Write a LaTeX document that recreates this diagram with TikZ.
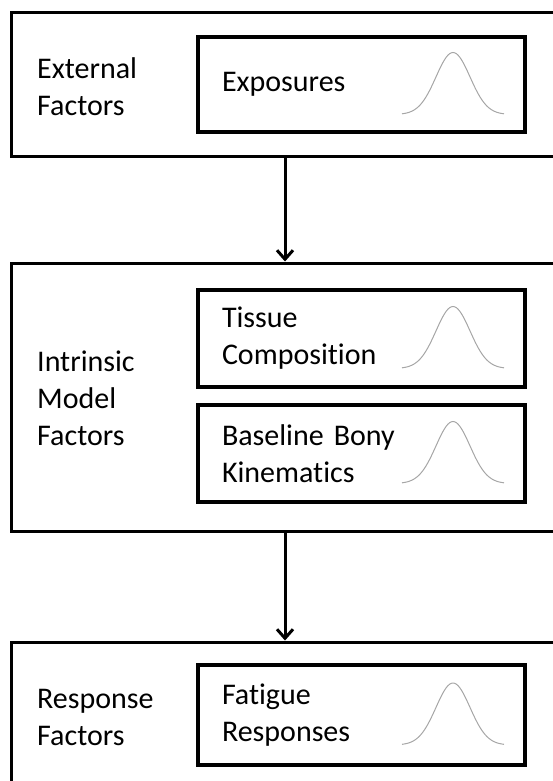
\documentclass[tikz,border=0pt]{standalone}
\usepackage{fontspec}
\setmainfont{Carlito}[Ligatures=NoCommon]
\usepackage{tikz}
\usetikzlibrary{positioning, calc, arrows.meta}

% Gaussian curve drawn at the right of an inner box
\newcommand{\bellcurve}[1]{%
	\begin{scope}[shift={($(#1.east)+(-74,30)$)}]
		\draw[bell] plot[domain=-3:3, samples=61, smooth] ({17*\x}, {-62*exp(-0.5*(\x)*(\x))});
	\end{scope}
}

\begin{document}
\begin{tikzpicture}[
		x=1pt, y=-1pt,
		% Large outer frame, open to the right
		outerbox/.style={
			draw,
			line width=3pt,
			inner sep=0pt,
			minimum width=589pt
		},
		% Inner box holding a factor and its curve
		innerbox/.style={
			draw,
			line width=4pt,
			inner sep=0pt,
			minimum width=327pt,
			text width=279pt,
			align=left,
			font=\fontsize{30}{37}\selectfont
		},
		% Label on the left of each frame
		framelabel/.style={
			anchor=west,
			align=left,
			inner sep=0pt,
			font=\fontsize{30}{37}\selectfont
		},
		% Thin grey distribution curve
		bell/.style={
			color=black!35,
			line width=1pt
		},
		% Connector between frames
		flow/.style={
			line width=3pt,
			-{Straight Barb[length=9pt, width=16pt, line width=3pt]}
		}
		]
		
		\useasboundingbox (0,0) rectangle (552,781);
		
		% --- Outer frames ---
		\node[outerbox, minimum height=143pt] (extbox) at (305.5, 84.5) {};
		\node[outerbox, minimum height=268pt] (intbox) at (305.5, 397) {};
		\node[outerbox, minimum height=180pt] (resbox) at (305.5, 732) {};
		
		% --- Frame labels ---
		\node[framelabel] (extlabel) at (37, 87) {External\\Factors};
		\node[framelabel] (intlabel) at (37, 398) {Intrinsic\\Model\\Factors};
		\node[framelabel] (reslabel) at (37, 717) {Response\\Factors};
		
		% --- Inner boxes ---
		\node[innerbox, minimum height=95pt] (expbox) at (361.5, 84.5) {Exposures};
		\node[innerbox, minimum height=97pt] (tisbox) at (361.5, 338.5) {Tissue\\Composition};
		\node[innerbox, minimum height=97pt] (basbox) at (361.5, 453.5) {Baseline Bony\\Kinematics};
		\node[innerbox, minimum height=100pt] (fatbox) at (361.5, 715) {Fatigue\\Responses};
		
		% --- Curves ---
		\bellcurve{expbox}
		\bellcurve{tisbox}
		\bellcurve{basbox}
		\bellcurve{fatbox}
		
		% --- Connectors ---
		\coordinate (flowx) at (285, 0);
		\draw[flow] (extbox.south -| flowx) -- (intbox.north -| flowx);
		\draw[flow] (intbox.south -| flowx) -- (resbox.north -| flowx);
		
	\end{tikzpicture}
\end{document}
